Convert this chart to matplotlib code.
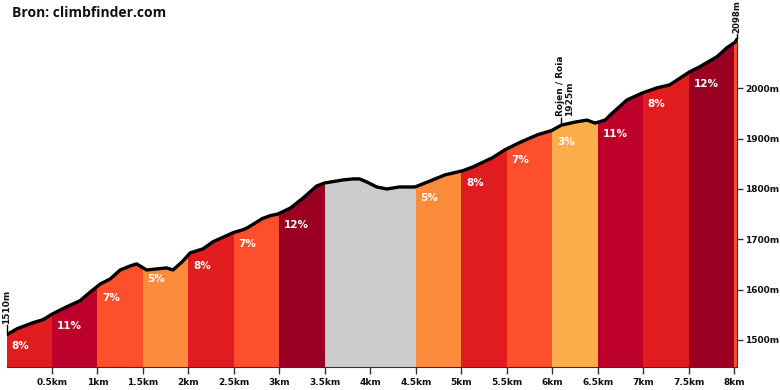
import matplotlib.pyplot as plt
from matplotlib.patches import Polygon
import numpy as np

# profiel (afstand in km, hoogte in m)
dist_km = [0.0, 0.115, 0.29, 0.40, 0.51, 0.665, 0.81, 0.92, 1.03, 1.14,
           1.25, 1.36, 1.43, 1.54, 1.65, 1.76, 1.83, 1.93, 1.98, 2.02,
           2.16, 2.27, 2.49, 2.60, 2.65, 2.81, 2.90, 2.98, 3.12, 3.26,
           3.41, 3.50, 3.70, 3.81, 3.88, 3.96, 4.07, 4.18, 4.32, 4.49,
           4.63, 4.82, 5.01, 5.13, 5.34, 5.48, 5.66, 5.84, 5.99, 6.10,
           6.25, 6.38, 6.47, 6.58, 6.66, 6.82, 6.99, 7.15, 7.29, 7.51,
           7.62, 7.81, 7.92, 8.01, 8.03]
elev_m = [1510, 1522, 1534, 1540, 1552, 1566, 1578, 1595, 1611, 1621,
          1639, 1647, 1651, 1639, 1641, 1643, 1639, 1655, 1665, 1673,
          1681, 1695, 1713, 1719, 1723, 1741, 1747, 1750, 1762, 1782,
          1806, 1812, 1818, 1820, 1820, 1814, 1804, 1800, 1804, 1804,
          1814, 1828, 1836, 1844, 1862, 1878, 1894, 1908, 1916, 1927,
          1933, 1937, 1931, 1937, 1951, 1977, 1991, 2001, 2007, 2033,
          2043, 2063, 2081, 2092, 2098]

# segmenten
seg_start = [0.0, 0.5, 1.0, 1.5, 2.0, 2.5, 3.0, 3.5, 4.5, 5.0, 5.5, 6.0, 6.5, 7.0, 7.5, 8.0]
seg_end = [0.5, 1.0, 1.5, 2.0, 2.5, 3.0, 3.5, 4.5, 5.0, 5.5, 6.0, 6.5, 7.0, 7.5, 8.0, 8.03]
seg_grade = [8, 11, 7, 5, 8, 7, 12, None, 5, 8, 7, 3, 11, 8, 12, 7]
seg_label = ["8%", "11%", "7%", "5%", "8%", "7%", "12%", "", "5%", "8%", "7%", "3%", "11%", "8%", "12%", ""]

y_ticks = [1500, 1600, 1700, 1800, 1900, 2000]
x_ticks = [0.5, 1, 1.5, 2, 2.5, 3, 3.5, 4, 4.5, 5, 5.5, 6, 6.5, 7, 7.5, 8]

grade_color = {3: '#fdae4c', 5: '#fc8c3c', 7: '#fd4f2b', 8: '#e11c1f',
               11: '#bd0029', 12: '#990021', None: '#cccccc'}

y_bot, y_top = 1446, 2136
x_max = 8.03

fig = plt.figure(figsize=(7.8, 3.9), dpi=100)
ax = fig.add_axes([6.5 / 780, 23 / 390, 730.5 / 780, 347 / 390])
ax.set_xlim(0, x_max)
ax.set_ylim(y_bot, y_top)

# clip-polygoon van het profiel
verts = list(zip(dist_km, elev_m)) + [(x_max, y_bot), (0, y_bot)]
clip = Polygon(verts, closed=True, transform=ax.transData)

for s, e, g in zip(seg_start, seg_end, seg_grade):
    bars = ax.bar(s, y_top - y_bot, bottom=y_bot, width=e - s, align='edge',
                  color=grade_color[g], linewidth=0, zorder=1)
    for b in bars:
        b.set_clip_path(clip)

ax.plot(dist_km, elev_m, color='black', lw=2.4, solid_capstyle='round',
        solid_joinstyle='round', zorder=3)

bold = dict(family='DejaVu Sans', weight='bold')
for s, lab in zip(seg_start, seg_label):
    if lab:
        y0 = np.interp(s, dist_km, elev_m)
        ax.text(s + 0.05, y0 - 13, lab, color='white', fontsize=7.5,
                ha='left', va='top', zorder=4, **bold)

# markeringen
ax.plot([0, 0], [1512, 1530], color='black', lw=1, zorder=4, clip_on=False)
ax.text(0, 1532, '1510m', rotation=90, ha='center', va='bottom', fontsize=6.5,
        color='#111111', **bold)
ax.plot([6.1, 6.1], [1929, 1942], color='black', lw=1, zorder=4, clip_on=False)
ax.text(6.14, 1946, 'Rojen / Roia\n1925m', rotation=90, ha='center', va='bottom',
        fontsize=6.5, color='#111111', linespacing=1.0, multialignment='left', **bold)
ax.plot([x_max, x_max], [2100, 2109], color='black', lw=1, zorder=4, clip_on=False)
ax.text(x_max - 0.005, 2111, '2098m', rotation=90, ha='center', va='bottom', fontsize=6.2,
        color='#111111', **bold)

# assen
for side in ['top', 'left']:
    ax.spines[side].set_visible(False)
ax.spines['bottom'].set_color('#333333')
ax.spines['right'].set_color('#333333')
ax.spines['right'].set_bounds(y_bot, 2098)
ax.yaxis.tick_right()
ax.set_yticks(y_ticks)
ax.set_yticklabels([f"{v}m" for v in y_ticks], fontsize=6.5, color='#111111', **bold)
ax.set_xticks(x_ticks)
ax.set_xticklabels([f"{v:g}km" for v in x_ticks], fontsize=6.5, color='#111111', **bold)
ax.tick_params(axis='both', direction='out', length=5, width=1, color='#333333', pad=3)
ax.tick_params(axis='y', length=4, pad=2)

fig.text(12 / 780, 1 - 13 / 390, 'Bron: climbfinder.com', ha='left', va='center',
         fontsize=10, family='Open Sans', weight='bold', color='#111111')

fig.savefig('out.png', dpi=100)
